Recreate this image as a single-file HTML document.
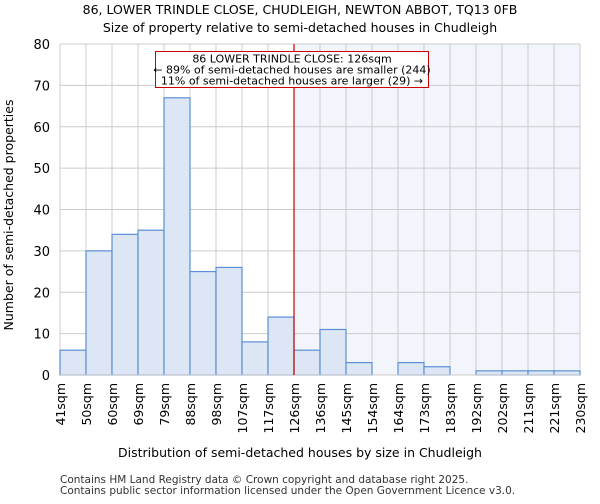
<!DOCTYPE html>
<html><head><meta charset="utf-8"><style>
body{margin:0;background:#fff;font-family:"DejaVu Sans","Liberation Sans",sans-serif;}
svg text{font-family:"DejaVu Sans","Liberation Sans",sans-serif;}
</style></head><body>
<svg id="c" width="600" height="500">
<text x="300" y="14" font-size="12.5" text-anchor="middle">86, LOWER TRINDLE CLOSE, CHUDLEIGH, NEWTON ABBOT, TQ13 0FB</text>
<text x="300" y="32" font-size="12.5" text-anchor="middle">Size of property relative to semi-detached houses in Chudleigh</text>
<g id="plot"></g>
<text x="300" y="457" font-size="12.5" text-anchor="middle">Distribution of semi-detached houses by size in Chudleigh</text>
<text transform="translate(13,215) rotate(-90)" font-size="12.5" text-anchor="middle">Number of semi-detached properties</text>
<text x="60" y="483" font-size="10.5" fill="#333">Contains HM Land Registry data © Crown copyright and database right 2025.</text>
<text x="60" y="494" font-size="10.5" fill="#333">Contains public sector information licensed under the Open Government Licence v3.0.</text>
</svg>
<script>
const binLabels=["41sqm","50sqm","60sqm","69sqm","79sqm","88sqm","98sqm","107sqm","117sqm","126sqm","136sqm","145sqm","154sqm","164sqm","173sqm","183sqm","192sqm","202sqm","211sqm","221sqm","230sqm"];
const counts=[6,30,34,35,67,25,26,8,14,6,11,3,0,3,2,0,1,1,1,1];
const yTicks=[0,10,20,30,40,50,60,70,80];
const markerBin=9;
const X0=60,X1=580,Y0=375,Y1=44,YMAX=80;
const nb=counts.length;
const xs=i=>X0+(X1-X0)*i/nb;
const ys=v=>Y0-(Y0-Y1)*v/YMAX;
const NS="http://www.w3.org/2000/svg";
const g=document.getElementById('plot');
function mk(t,a){const e=document.createElementNS(NS,t);for(const k in a)e.setAttribute(k,a[k]);g.appendChild(e);return e;}
let sh=mk('rect',{x:xs(markerBin),y:Y1,width:X1-xs(markerBin),height:Y0-Y1,fill:'#f2f5fc'});


yTicks.forEach(v=>{
 let l=mk('line',{x1:X0,x2:X1,y1:ys(v),y2:ys(v),stroke:'#ccc'});
 
 
 let t=mk('text',{x:X0-10,y:ys(v)+5,'font-size':13,'text-anchor':'end'});t.textContent=v;
 
 
});
binLabels.forEach((s,i)=>{
 let l=mk('line',{x1:xs(i),x2:xs(i),y1:Y1,y2:Y0,stroke:'#ccc'});
 
 
 let t=mk('text',{transform:`translate(${xs(i)+5},${Y0+8}) rotate(-90)`,'font-size':12.5,'text-anchor':'end'});t.textContent=s;
 
 
});
counts.forEach((c,i)=>{
 if(c<=0)return;
 let r=mk('rect',{x:xs(i),y:ys(c),width:xs(i+1)-xs(i),height:Y0-ys(c),fill:'#dce6f4',stroke:'#5b8fd6','stroke-width':1.2});
 
 
});
let ax=mk('line',{x1:X0,x2:X1,y1:Y0,y2:Y0,stroke:'#ccc'});


let ml=mk('line',{x1:xs(markerBin),x2:xs(markerBin),y1:Y1,y2:Y0,stroke:'#cc0000','stroke-width':1.2});


let box=mk('rect',{x:155.5,y:51.5,width:273,height:36,fill:'#fff',stroke:'#cc0000'});


["86 LOWER TRINDLE CLOSE: 126sqm","← 89% of semi-detached houses are smaller (244)","11% of semi-detached houses are larger (29) →"].forEach((s,i)=>{
 let t=mk('text',{x:292,y:62.5+i*11,'font-size':11,'text-anchor':'middle'});t.textContent=s;
 
 
});
</script>
</body></html>
